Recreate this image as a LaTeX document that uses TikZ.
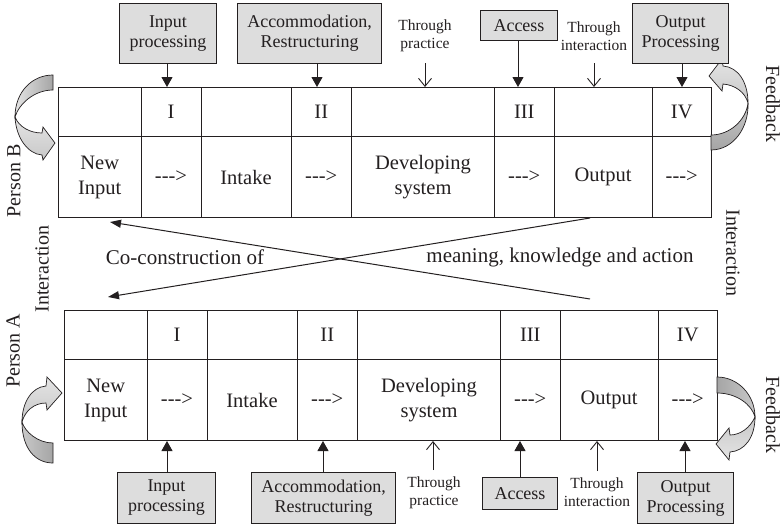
\documentclass[tikz,border=0pt]{standalone}
\usepackage{fontspec}
\setmainfont{Liberation Serif}
\usetikzlibrary{arrows.meta,calc}
\definecolor{ink}{RGB}{35,31,32}
\definecolor{boxfill}{RGB}{221,221,221}
\definecolor{ribdark}{RGB}{165,165,165}
\definecolor{ribmid}{RGB}{200,200,200}
\definecolor{riblight}{RGB}{228,228,228}
\newcommand\dasharrow{-\kern0pt-\kern0pt->}
\tikzset{
  cellbox/.style={draw=ink, line width=1pt, inner sep=0pt, align=center, text=ink, font=\fontsize{20.5}{25}\selectfont},
  gbox/.style={draw=ink, fill=boxfill, line width=1pt, inner sep=0pt, align=center, text=ink, anchor=north west, font=\fontsize{18}{20}\selectfont},
  thru/.style={align=center, inner sep=0pt, text=ink, font=\fontsize{15.5}{18}\selectfont},
  solidarr/.style={draw=ink, line width=1pt, -{Triangle[length=10pt,width=11pt]}},
  openarr/.style={draw=ink, line width=0.9pt, -{Straight Barb[length=8pt,width=13pt]}},
  crossarr/.style={draw=ink, line width=1pt, -{Triangle[length=11pt,width=8pt]}},
  ribbon/.style={draw=ink, line width=0.7pt},
  sidelabel/.style={inner sep=0pt, text=ink, font=\fontsize{20}{24}\selectfont},
  crosslabel/.style={inner sep=0pt, text=ink, font=\fontsize{21}{25}\selectfont}
}
\newcommand\maketable[5]{%
  \foreach \i/\xa/\xb/\topt/\bott in {1/58/140.5/{}/{New\\Input},2/140.5/200.5/I/\dasharrow,3/200.5/290.5/{}/Intake,4/290.5/351/II/\dasharrow,5/351/494/{}/{Developing\\system},6/494/553.5/III/\dasharrow,7/553.5/651.5/{}/Output,8/651.5/711/IV/\dasharrow}{
    \node[cellbox,minimum width={\xb-\xa},minimum height={#4-#3},anchor=north west] (#1t\i) at ({\xa+#2},#3) {\topt};
    \node[cellbox,minimum width={\xb-\xa},minimum height={#5-#4},anchor=north west] (#1b\i) at ({\xa+#2},#4) {\bott};
  }}
\begin{document}
\begin{tikzpicture}[x=1pt,y=-1pt]
\useasboundingbox (0,0) rectangle (782,525);

% tables
\maketable{B}{0}{87}{136}{217}
\maketable{A}{6}{310}{359}{440}

% ribbons (curved feedback arrows)
% top left
\path[ribbon, left color=riblight, right color=ribdark] (53,75) .. controls (32,75) and (15,92) .. (15,117) .. controls (19,104) and (34,90) .. (53,90) -- cycle;
\path[ribbon, top color=riblight, bottom color=ribmid] (15,117) .. controls (16,138) and (28,154) .. (42,155) -- (43,160) -- (55,143) -- (43,127) -- (42,133) .. controls (30,133) and (19,127) .. (15,117) -- cycle;
% top right
\path[ribbon, top color=ribmid, bottom color=ribdark] (711,135) .. controls (730,135) and (746,120) .. (748,103) .. controls (749,128) and (733,150) .. (711,150) -- cycle;
\path[ribbon, top color=riblight, bottom color=ribmid] (748,103) .. controls (748,82) and (738,67) .. (723,66) -- (722,59) -- (709,76) -- (722,91) -- (723,84) .. controls (735,85) and (745,92) .. (748,103) -- cycle;
% bottom left
\path[ribbon, top color=riblight, bottom color=ribmid] (22,422) .. controls (22,402) and (32,387) .. (46,386) -- (47,377) -- (62,393) -- (47,410) -- (46,403) .. controls (34,403) and (25,411) .. (22,422) -- cycle;
\path[ribbon, left color=ribmid, right color=ribdark] (22,422) .. controls (25,432) and (38,443) .. (53,443) -- (53,463) .. controls (35,463) and (22,448) .. (22,422) -- cycle;
% bottom right
\path[ribbon, left color=ribdark, right color=ribmid] (717,377) .. controls (738,377) and (755,395) .. (755,417) .. controls (752,405) and (737,393) .. (717,393) -- cycle;
\path[ribbon, top color=ribmid, bottom color=riblight] (755,417) .. controls (755,437) and (745,451) .. (730,452) -- (729,460) -- (716,444) -- (729,428) -- (730,435) .. controls (740,435) and (750,428) .. (755,417) -- cycle;

% top boxes
\node[gbox,minimum width=97,minimum height=60] (ipT) at (119,3) {Input\\processing};
\node[gbox,minimum width=144,minimum height=60] (accT) at (237,3) {Accommodation,\\Restructuring};
\node[gbox,minimum width=77,minimum height=30] (axT) at (480,10) {Access};
\node[gbox,minimum width=96,minimum height=60] (opT) at (632,3) {Output\\Processing};
\node[thru] (tpT) at (425,36) {Through\\practice};
\node[thru] (tiT) at (594,36) {Through\\interaction};

\coordinate (ipTs) at (167,63);
\coordinate (accTs) at (317,63);
\coordinate (tpTs) at (425,63);
\coordinate (axTs) at (518,40);
\coordinate (tiTs) at (594,63);
\coordinate (opTs) at (682,63);
\draw[solidarr] (ipTs) -- (ipTs |- Bt2.north);
\draw[solidarr] (accTs) -- (accTs |- Bt4.north);
\draw[openarr] (tpTs) -- (tpTs |- Bt5.north);
\draw[solidarr] (axTs) -- (axTs |- Bt6.north);
\draw[openarr] (tiTs) -- (tiTs |- Bt7.north);
\draw[solidarr] (opTs) -- (opTs |- Bt8.north);

% bottom boxes
\node[gbox,minimum width=98,minimum height=51] (ipB) at (117,472) {Input\\processing};
\node[gbox,minimum width=144,minimum height=51] (accB) at (251,472) {Accommodation,\\Restructuring};
\node[gbox,minimum width=75,minimum height=32] (axB) at (482,477) {Access};
\node[gbox,minimum width=96,minimum height=51] (opB) at (637,472) {Output\\Processing};
\node[thru] (tpB) at (434,492.5) {Through\\practice};
\node[thru] (tiB) at (597,492.5) {Through\\interaction};

\coordinate (ipBs) at (167,472);
\coordinate (accBs) at (323,472);
\coordinate (tpBs) at (433,470);
\coordinate (axBs) at (520,477);
\coordinate (tiBs) at (597,471);
\coordinate (opBs) at (685,472);
\draw[solidarr] (ipBs) -- (ipBs |- Ab2.south);
\draw[solidarr] (accBs) -- (accBs |- Ab4.south);
\draw[openarr] (tpBs) -- (tpBs |- Ab5.south);
\draw[solidarr] (axBs) -- (axBs |- Ab6.south);
\draw[openarr] (tiBs) -- (tiBs |- Ab7.south);
\draw[solidarr] (opBs) -- (opBs |- Ab8.south);

% crossing connectors
\coordinate (x1s) at (590,218);
\coordinate (x1e) at (108,297);
\coordinate (x2s) at (590,299);
\coordinate (x2e) at (110,222);
\draw[crossarr] (x1s) -- (x1e);
\draw[crossarr] (x2s) -- (x2e);
\node[crosslabel] (cc1) at (185,257) {Co-construction of};
\node[crosslabel] (cc2) at (560,257) {meaning, knowledge and action};

% side labels
\node[sidelabel,rotate=90] (pB) at (14,181) {Person B};
\node[sidelabel,rotate=90] (intL) at (42,269) {Interaction};
\node[sidelabel,rotate=90] (pA) at (13,351) {Person A};
\node[sidelabel,rotate=-90] (intR) at (733,253) {Interaction};
\node[sidelabel,rotate=-90] (fbT) at (773,104) {Feedback};
\node[sidelabel,rotate=-90] (fbB) at (773,415) {Feedback};
\end{tikzpicture}
\end{document}
